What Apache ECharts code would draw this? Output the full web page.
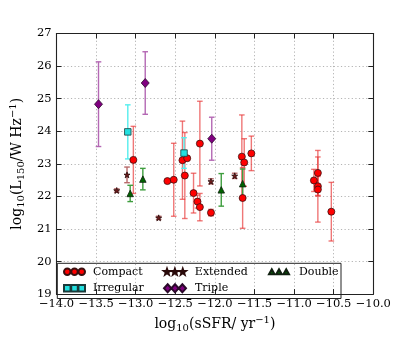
<!DOCTYPE html>
<html><head><meta charset="utf-8">
<script src="https://cdn.jsdelivr.net/npm/echarts@6/dist/echarts.min.js"></script>
<style>html,body{margin:0;padding:0;background:#fff}#c{width:415px;height:338px}</style>
</head><body><div id="c"></div>
<script>
// ---- data ----
const compactX   = [-13.03,-12.60,-12.52,-12.41,-12.35,-12.38,-12.27,-12.22,-12.19,-12.19,-12.05,-11.66,-11.63,-11.65,-11.54,-10.75,-10.70,-10.70,-10.70,-10.53];
const compactY   = [23.12, 22.47, 22.51, 23.11, 23.17, 22.64, 22.10, 21.84, 21.67, 23.62, 21.50, 23.22, 23.04, 21.95, 23.32, 22.49, 22.72, 22.31, 22.21, 21.53];
const compactErr = [1.03, 0.00, 1.12, 1.20, 0.00, 1.32, 0.61, 0.20, 0.42, 1.30, 0.10, 1.28, 0.73, 0.93, 0.53, 0.34, 0.69, 0.30, 1.00, 0.90];

const irregularX   = [-13.10, -12.39];
const irregularY   = [23.98, 23.33];
const irregularErr = [0.83, 0.47];

const tripleX   = [-13.47, -12.88, -12.04];
const tripleY   = [24.83, 25.48, 23.77];
const tripleErr = [1.30, 0.96, 0.66];

const doubleX   = [-13.07, -12.91, -11.92, -11.65];
const doubleY   = [22.09, 22.53, 22.20, 22.39];
const doubleErr = [0.25, 0.33, 0.50, 0.45];

const extendedX   = [-13.24, -13.11, -12.71, -12.05, -11.75];
const extendedY   = [22.18, 22.66, 21.34, 22.46, 22.63];
const extendedErr = [0.05, 0.24, 0.05, 0.08, 0.08];

const classNames = ['Compact', 'Irregular', 'Triple', 'Double', 'Extended'];

const xMin = -14.0, xMax = -10.0, xStep = 0.5;
const yMin = 19, yMax = 27, yStep = 1;

// ---- styling ----
const FONT = 'DejaVu Serif';
const STAR = 'path://M10,0L12.35,6.76L19.51,6.91L13.8,11.24L15.88,18.09L10,14L4.12,18.09L6.2,11.24L0.49,6.91L7.65,6.76Z';
const ICON = {
  Compact: 'path://M0,5a5,5 0 1,0 10,0a5,5 0 1,0 -10,0ZM11,5a5,5 0 1,0 10,0a5,5 0 1,0 -10,0ZM22,5a5,5 0 1,0 10,0a5,5 0 1,0 -10,0Z',
  Irregular: 'path://M0,0h10v10h-10zM11,0h10v10h-10zM22,0h10v10h-10z',
  Triple: 'path://M5,0L10,5.5L5,11L0,5.5ZM15,0L20,5.5L15,11L10,5.5ZM25,0L30,5.5L25,11L20,5.5Z',
  Double: 'path://M5,0L10,9L0,9ZM18,0L23,9L13,9ZM31,0L36,9L26,9Z',
  Extended: 'path://M10,0L12.35,6.76L19.51,6.91L13.8,11.24L15.88,18.09L10,14L4.12,18.09L6.2,11.24L0.49,6.91L7.65,6.76Z' +
            'M35,0L37.35,6.76L44.51,6.91L38.8,11.24L40.88,18.09L35,14L29.12,18.09L31.2,11.24L25.49,6.91L32.65,6.76Z' +
            'M60,0L62.35,6.76L69.51,6.91L63.8,11.24L65.88,18.09L60,14L54.12,18.09L56.2,11.24L50.49,6.91L57.65,6.76Z'
};
const STYLE = {
  Compact:   {symbol:'circle',   size:7,   fill:'#ff0000', edge:'#3a1010', bar:'rgba(232,55,55,0.68)'},
  Irregular: {symbol:'rect',     size:6.5, fill:'#22e0e0', edge:'#1a3a3a', bar:'#55eeee'},
  Triple:    {symbol:'diamond',  size:[8,9], fill:'#800080', edge:'#2a0a2a', bar:'#b468b4'},
  Double:    {symbol:'triangle', size:6.5, fill:'#006400', edge:'#102010', bar:'#3f9e3f'},
  Extended:  {symbol:STAR,       size:6,   fill:'#701c1c', edge:'#2a0a0a', bar:'#b86a6a'}
};
const DATA = {
  Compact:   [compactX, compactY, compactErr],
  Irregular: [irregularX, irregularY, irregularErr],
  Triple:    [tripleX, tripleY, tripleErr],
  Double:    [doubleX, doubleY, doubleErr],
  Extended:  [extendedX, extendedY, extendedErr]
};

function zip(n){ const [xs, ys, es] = DATA[n]; return xs.map((x,i)=>[x, ys[i], es[i]]); }

function errSeries(n){
  const col = STYLE[n].bar;
  return {
    type:'custom', name:n+' err', z:1, silent:true,
    encode:{x:0, y:1},
    data: zip(n),
    renderItem: function(params, api){
      const x = api.value(0), y = api.value(1), e = api.value(2);
      if (!(e > 0)) return {type:'group', children:[]};
      const t = api.coord([x, y + e]), b = api.coord([x, y - e]);
      const w = 2.8, st = {stroke:col, lineWidth:1.4};
      return {type:'group', children:[
        {type:'line', shape:{x1:t[0], y1:t[1], x2:b[0], y2:b[1]}, style:st},
        {type:'line', shape:{x1:t[0]-w, y1:t[1], x2:t[0]+w, y2:t[1]}, style:st},
        {type:'line', shape:{x1:b[0]-w, y1:b[1], x2:b[0]+w, y2:b[1]}, style:st}
      ]};
    }
  };
}
function ptSeries(n){
  const s = STYLE[n];
  return {
    type:'scatter', name:n, z:3, symbol:s.symbol, symbolSize:s.size,
    data: zip(n).map(d=>[d[0], d[1]]),
    itemStyle:{color:s.fill, borderColor:s.edge, borderWidth:0.8, opacity:1},
    emphasis:{disabled:true}
  };
}

const order = ['Compact','Irregular','Triple','Extended','Double'];
const series = [];
order.forEach(n=>{ series.push(errSeries(n)); });
order.forEach(n=>{ series.push(ptSeries(n)); });

function legendItem(n, left, cy, w, h, pad){
  return {
    data:[{name:n, icon:ICON[n]}], left:left, top:cy-7, padding:0,
    itemWidth:w, itemHeight:h, selectedMode:false, orient:'horizontal',
    textStyle:{fontFamily:FONT, fontSize:11, color:'#000', lineHeight:14, padding:[0,0,0,pad]}
  };
}

const fmt = v => (v < 0 ? '\u2212' : '') + Math.abs(v).toFixed(1);
const rich = {
  a:{fontFamily:FONT, fontSize:14, color:'#000', lineHeight:18},
  s:{fontFamily:FONT, fontSize:10, color:'#000', lineHeight:8, verticalAlign:'bottom'},
  p:{fontFamily:FONT, fontSize:10, color:'#000', lineHeight:8, verticalAlign:'top'}
};
const axisLine = {show:true, lineStyle:{color:'#222', width:1.1}};
const grid = {left:51.7, right:41.7, top:33.5, bottom:34.7, containLabel:false};

const option = {
  animation:false,
  backgroundColor:'#fff',
  grid: grid,
  legend: [
    legendItem('Compact',   63, 271.7, 21, 6.6, 3),
    legendItem('Irregular', 63, 288.3, 21, 6.6, 3),
    legendItem('Extended', 163, 271.7, 22, 5.7, 4),
    legendItem('Triple',   163, 288.3, 22, 8.1, 4),
    legendItem('Double',   268, 271.7, 20, 5.0, 5)
  ],
  graphic: [{
    type:'rect', z:-1, zlevel:0,
    shape:{x:57.3, y:263.3, width:283.7, height:35.2},
    style:{fill:'#fff', stroke:'#222', lineWidth:1}
  }],
  xAxis: [{
    type:'value', min:xMin, max:xMax, interval:xStep, position:'bottom',
    name:'{a|log}{s|10}{a|(sSFR/ yr}{p|\u22121}{a|)}', nameLocation:'middle', nameGap:17,
    nameTextStyle:{fontFamily:FONT, fontSize:14, rich:rich},
    axisLine:axisLine, axisTick:{show:true, inside:true, length:5, lineStyle:{color:'#222'}},
    axisLabel:{formatter:fmt, fontFamily:FONT, fontSize:11.5, color:'#000', margin:4, showMinLabel:true, showMaxLabel:true},
    splitLine:{show:true, lineStyle:{color:'#b4b4b4', type:[1.2,2.4], width:1}}
  },{
    type:'value', min:xMin, max:xMax, interval:xStep, position:'top',
    axisLine:axisLine, axisTick:{show:true, inside:true, length:5, lineStyle:{color:'#222'}},
    axisLabel:{show:false}, splitLine:{show:false}
  }],
  yAxis: [{
    type:'value', min:yMin, max:yMax, interval:yStep, position:'left',
    name:'{a|log}{s|10}{a|(L}{s|150}{a|/W Hz}{p|\u22121}{a|)}', nameLocation:'middle', nameGap:18, nameRotate:90,
    nameTextStyle:{fontFamily:FONT, fontSize:14, rich:rich},
    axisLine:axisLine, axisTick:{show:true, inside:true, length:5, lineStyle:{color:'#222'}},
    axisLabel:{fontFamily:FONT, fontSize:11.5, color:'#000', margin:5, showMinLabel:true, showMaxLabel:true},
    splitLine:{show:true, lineStyle:{color:'#b4b4b4', type:[1.2,2.4], width:1}}
  },{
    type:'value', min:yMin, max:yMax, interval:yStep, position:'right',
    axisLine:axisLine, axisTick:{show:true, inside:true, length:5, lineStyle:{color:'#222'}},
    axisLabel:{show:false}, splitLine:{show:false}
  }],
  series: series
};
const chart = echarts.init(document.getElementById('c'), null, {renderer:'canvas'});
chart.setOption(option);
</script></body></html>
